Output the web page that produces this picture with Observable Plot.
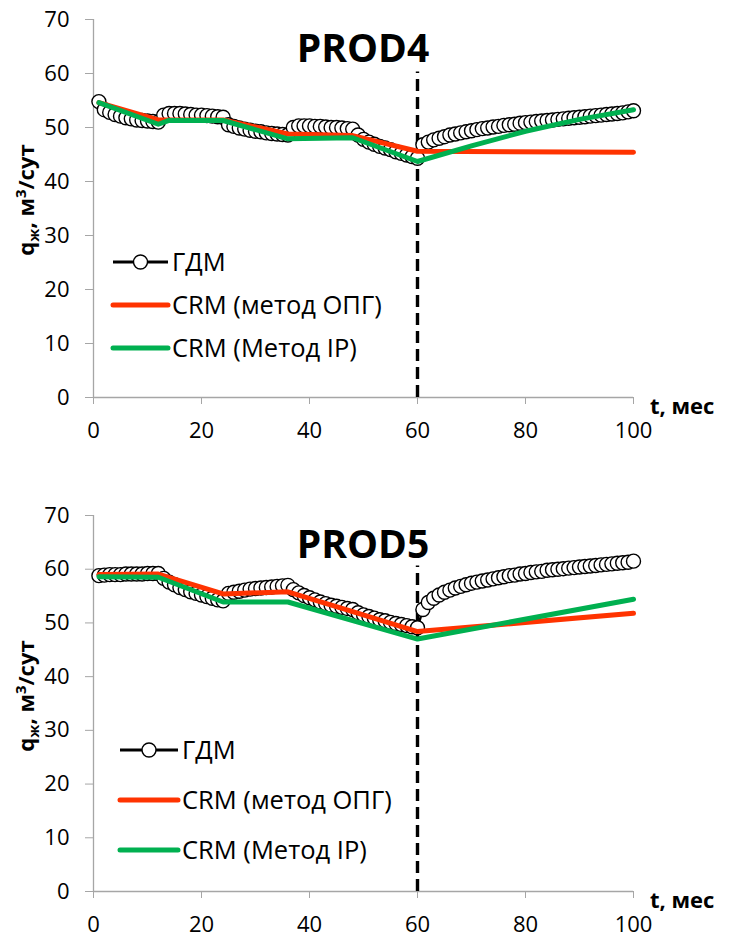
<!DOCTYPE html>
<html><head><meta charset="utf-8">
<script src="https://cdn.jsdelivr.net/npm/d3@7"></script>
<script src="https://cdn.jsdelivr.net/npm/@observablehq/plot@0.6"></script>
<style>body{margin:0;background:#fff} svg{display:block}</style>
</head><body><div id="chart"></div>
<script>
// ---- data ----
const gdm4 = [
54.8,53.3,52.8,52.4,52.1,51.8,51.6,51.4,51.3,51.2,51.1,51.0,
52.3,52.6,52.6,52.6,52.5,52.4,52.3,52.3,52.2,52.1,52.0,51.9,
50.5,50.2,49.9,49.7,49.5,49.3,49.2,49.0,48.9,48.8,48.7,48.6,
50.0,50.3,50.3,50.3,50.2,50.2,50.1,50.0,50.0,49.9,49.8,49.7,
48.6,47.8,47.3,46.9,46.5,46.2,45.9,45.5,45.2,44.9,44.6,44.3,
46.8,47.3,47.7,48.0,48.3,48.6,48.8,49.0,49.2,49.4,
49.6,49.8,49.9,50.1,50.2,50.4,50.5,50.6,50.8,50.9,
51.0,51.1,51.2,51.3,51.4,51.5,51.6,51.7,51.8,51.9,
52.0,52.1,52.2,52.3,52.4,52.5,52.6,52.7,52.9,53.1];
const opg4T = [1,12,24,36,48,60,100];
const opg4 = [54.6,51.4,51.4,48.8,48.5,45.6,45.4];
const ip4T = [1,12,14,24,36,48,60,70,80,90,100];
const ip4 = [54.6,50.6,51.3,51.3,47.9,48.1,43.7,46.6,49.3,51.5,53.3];

const gdm5 = [
58.8,58.9,59.0,59.0,59.0,59.1,59.1,59.1,59.1,59.2,59.2,59.2,
58.3,57.6,57.1,56.6,56.2,55.8,55.5,55.2,54.9,54.6,54.3,54.1,
55.5,55.7,55.9,56.1,56.3,56.4,56.5,56.6,56.7,56.8,56.9,57.0,
56.2,55.6,55.1,54.7,54.3,53.9,53.6,53.3,53.1,52.9,52.7,52.5,
51.9,51.5,51.2,50.9,50.6,50.4,50.1,49.9,49.7,49.5,49.3,49.1,
52.5,53.8,54.6,55.2,55.7,56.1,56.5,56.8,57.1,57.4,
57.6,57.8,58.0,58.2,58.4,58.6,58.8,58.9,59.1,59.2,
59.4,59.5,59.6,59.8,59.9,60.0,60.1,60.2,60.3,60.4,
60.5,60.6,60.7,60.8,60.9,61.0,61.1,61.2,61.3,61.5];
const opg5T = [1,12,24,36,48,60,100];
const opg5 = [59.0,59.1,55.4,55.8,52.1,48.4,51.8];
const ip5T = [1,12,24,36,60,100];
const ip5 = [58.6,58.5,53.9,53.9,47.0,54.4];

const xTicks = [0,20,40,60,80,100];
const yTicks = [0,10,20,30,40,50,60,70];
const forecastStart = 60;
const seriesNames = ["ГДМ","CRM (метод ОПГ)","CRM (Метод IP)"];
const colors = {gdm:"#000000", opg:"#ff3300", ip:"#00b050"};

const FONT = "'Open Sans', sans-serif";

function makeChart(cfg){
  const gdm = cfg.gdm.map((v,i)=>({t:i+1, q:v}));
  const opg = cfg.opgT.map((t,i)=>({t, q:cfg.opg[i]}));
  const ip = cfg.ipT.map((t,i)=>({t, q:cfg.ip[i]}));
  const chart = Plot.plot({
    width:730, height:cfg.height,
    marginLeft:93, marginRight:97, marginTop:cfg.mt, marginBottom:cfg.mb,
    style:{fontFamily:FONT, fontSize:"22px", background:"#fff", color:"#000"},
    x:{domain:[0,100]}, y:{domain:[0,70]},
    marks:[
      Plot.ruleY([0],{stroke:"#a6a6a6", strokeWidth:1.3}),
      Plot.ruleX([0],{stroke:"#a6a6a6", strokeWidth:1.3}),
      Plot.axisX({ticks:xTicks, tickSize:7, tickPadding:18, stroke:"#a6a6a6", fill:"#000", fontSize:22, label:null}),
      Plot.axisY({ticks:yTicks, tickSize:8, tickPadding:16, stroke:"#a6a6a6", fill:"#000", fontSize:22, label:null}),
      Plot.ruleX([forecastStart],{y1:0, y2:cfg.vTop, stroke:"#000", strokeWidth:3.4, strokeDasharray:"12,6"}),
      Plot.line(gdm,{x:"t", y:"q", stroke:colors.gdm, strokeWidth:2.5}),
      Plot.dot(gdm,{x:"t", y:"q", r:7, fill:"#fff", stroke:"#000", strokeWidth:1.4}),
      Plot.line(opg,{x:"t", y:"q", stroke:colors.opg, strokeWidth:5}),
      Plot.line(ip,{x:"t", y:"q", stroke:colors.ip, strokeWidth:5}),
    ]
  });
  const svg = d3.select(chart);
  const xs = chart.scale("x"), ys = chart.scale("y");
  const x0 = xs.apply(0), x100 = xs.apply(100), yTop = ys.apply(70), yBot = ys.apply(0);
  // title
  svg.append("text").attr("x",(x0+x100)/2).attr("y",yTop+43)
    .attr("text-anchor","middle").attr("font-family",FONT).attr("font-weight",700)
    .attr("font-size",39).attr("fill","#000").text(cfg.title);
  // x label
  svg.append("text").attr("x",x100+17).attr("y",yBot+17).attr("text-anchor","start")
    .attr("font-family",FONT).attr("font-weight",700).attr("font-size",22).attr("fill","#000").text("t, мес");
  // y label
  const yl = svg.append("text").attr("transform",`translate(34,${yTop+181}) rotate(-90)`)
    .attr("text-anchor","middle").attr("font-family",FONT).attr("font-weight",700).attr("font-size",22).attr("fill","#000");
  yl.append("tspan").text("q");
  yl.append("tspan").attr("dy",5).attr("font-size",15).text("ж");
  yl.append("tspan").attr("dy",-5).text(", м");
  yl.append("tspan").attr("dy",-8).attr("font-size",15).text("3");
  yl.append("tspan").attr("dy",8).text("/сут");
  // legend
  const L = cfg.legend;
  const items = [
    {name:seriesNames[0], c:colors.gdm, w:3, dot:true},
    {name:seriesNames[1], c:colors.opg, w:5},
    {name:seriesNames[2], c:colors.ip, w:5}];
  items.forEach((it,i)=>{
    const yy = yTop + L.y0 + i*L.dy;
    const g = svg.append("g");
    g.append("line").attr("x1",L.x).attr("x2",L.x+L.len).attr("y1",yy).attr("y2",yy)
      .attr("stroke",it.c).attr("stroke-width",it.w).attr("stroke-linecap", it.dot?"butt":"round");
    if(it.dot) g.append("circle").attr("cx",L.x+L.len/2).attr("cy",yy).attr("r",7)
      .attr("fill","#fff").attr("stroke","#000").attr("stroke-width",1.4);
    g.append("text").attr("x",L.x+L.len+4).attr("y",yy+9).attr("text-anchor","start").attr("font-family",FONT)
      .attr("font-size",25.5).attr("fill","#000").text(it.name);
  });
  return chart;
}

const root = document.getElementById("chart");
root.appendChild(makeChart({gdm:gdm4, opgT:opg4T, opg:opg4, ipT:ip4T, ip:ip4,
  title:"PROD4", height:470, mt:19, mb:73, vTop:60.3,
  legend:{x:113, len:55, y0:243, dy:43}}));
root.appendChild(makeChart({gdm:gdm5, opgT:opg5T, opg:opg5, ipT:ip5T, ip:ip5,
  title:"PROD5", height:469, mt:45, mb:48, vTop:60.6,
  legend:{x:120, len:58, y0:235, dy:50}}));
</script>
</body></html>
